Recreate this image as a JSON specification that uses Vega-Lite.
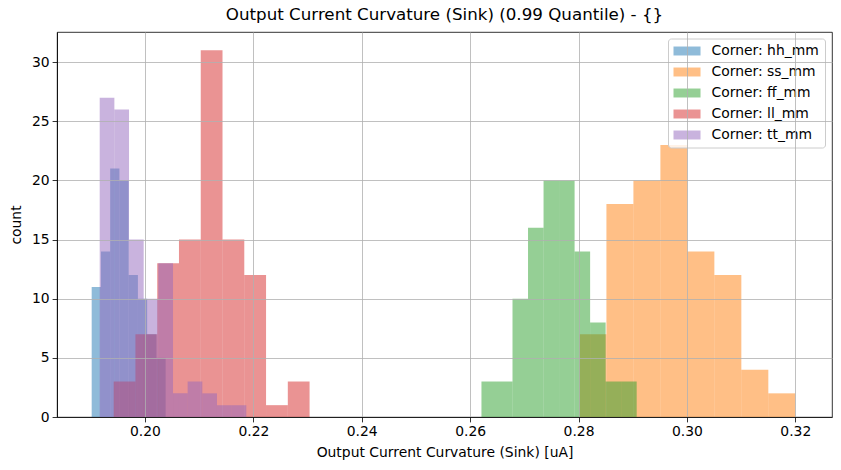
{
  "$schema": "https://vega.github.io/schema/vega-lite/v6.json",
  "autosize": "none",
  "width": 775,
  "height": 385,
  "padding": {"left": 57, "top": 32, "right": 9, "bottom": 53},
  "background": "white",
  "title": {"text": "Output Current Curvature (Sink) (0.99 Quantile) - {}", "font": "DejaVu Sans", "fontSize": 16.7, "fontWeight": "normal", "color": "black", "offset": 8},
  "config": {
    "view": {"stroke": "black", "strokeWidth": 0.8},
    "axis": {
      "labelFont": "DejaVu Sans", "labelFontSize": 13.9, "labelColor": "black",
      "titleFont": "DejaVu Sans", "titleFontSize": 13.9, "titleFontWeight": "normal", "titleColor": "black",
      "tickColor": "black", "tickSize": 4.9, "tickWidth": 0.8, "labelPadding": 3,
      "domainColor": "black", "domainWidth": 0.8,
      "gridColor": "#b0b0b0", "gridWidth": 0.8, "gridOpacity": 1
    }
  },
  "data": {"values": [
    {"corner": "Corner: hh_mm", "start": 0.19017, "end": 0.191876, "count": 11},
    {"corner": "Corner: hh_mm", "start": 0.191876, "end": 0.193582, "count": 14},
    {"corner": "Corner: hh_mm", "start": 0.193582, "end": 0.195288, "count": 21},
    {"corner": "Corner: hh_mm", "start": 0.195288, "end": 0.196994, "count": 20},
    {"corner": "Corner: hh_mm", "start": 0.196994, "end": 0.1987, "count": 12},
    {"corner": "Corner: hh_mm", "start": 0.1987, "end": 0.200406, "count": 10},
    {"corner": "Corner: hh_mm", "start": 0.200406, "end": 0.202112, "count": 7},
    {"corner": "Corner: hh_mm", "start": 0.202112, "end": 0.203818, "count": 5},
    {"corner": "Corner: ss_mm", "start": 0.28017, "end": 0.285149, "count": 7},
    {"corner": "Corner: ss_mm", "start": 0.285149, "end": 0.290127, "count": 18},
    {"corner": "Corner: ss_mm", "start": 0.290127, "end": 0.295106, "count": 20},
    {"corner": "Corner: ss_mm", "start": 0.295106, "end": 0.300084, "count": 23},
    {"corner": "Corner: ss_mm", "start": 0.300084, "end": 0.305063, "count": 14},
    {"corner": "Corner: ss_mm", "start": 0.305063, "end": 0.310041, "count": 12},
    {"corner": "Corner: ss_mm", "start": 0.310041, "end": 0.31502, "count": 4},
    {"corner": "Corner: ss_mm", "start": 0.31502, "end": 0.31999, "count": 2},
    {"corner": "Corner: ff_mm", "start": 0.26209, "end": 0.264954, "count": 3},
    {"corner": "Corner: ff_mm", "start": 0.264954, "end": 0.267818, "count": 3},
    {"corner": "Corner: ff_mm", "start": 0.267818, "end": 0.270682, "count": 10},
    {"corner": "Corner: ff_mm", "start": 0.270682, "end": 0.273546, "count": 16},
    {"corner": "Corner: ff_mm", "start": 0.273546, "end": 0.27641, "count": 20},
    {"corner": "Corner: ff_mm", "start": 0.27641, "end": 0.279274, "count": 20},
    {"corner": "Corner: ff_mm", "start": 0.279274, "end": 0.282138, "count": 14},
    {"corner": "Corner: ff_mm", "start": 0.282138, "end": 0.285002, "count": 8},
    {"corner": "Corner: ff_mm", "start": 0.285002, "end": 0.287866, "count": 3},
    {"corner": "Corner: ff_mm", "start": 0.287866, "end": 0.29073, "count": 3},
    {"corner": "Corner: ll_mm", "start": 0.19423, "end": 0.198246, "count": 3},
    {"corner": "Corner: ll_mm", "start": 0.198246, "end": 0.202262, "count": 7},
    {"corner": "Corner: ll_mm", "start": 0.202262, "end": 0.206278, "count": 13},
    {"corner": "Corner: ll_mm", "start": 0.206278, "end": 0.210294, "count": 15},
    {"corner": "Corner: ll_mm", "start": 0.210294, "end": 0.21431, "count": 31},
    {"corner": "Corner: ll_mm", "start": 0.21431, "end": 0.218326, "count": 15},
    {"corner": "Corner: ll_mm", "start": 0.218326, "end": 0.222342, "count": 12},
    {"corner": "Corner: ll_mm", "start": 0.222342, "end": 0.226358, "count": 1},
    {"corner": "Corner: ll_mm", "start": 0.226358, "end": 0.230374, "count": 3},
    {"corner": "Corner: tt_mm", "start": 0.19165, "end": 0.194355, "count": 27},
    {"corner": "Corner: tt_mm", "start": 0.194355, "end": 0.19706, "count": 26},
    {"corner": "Corner: tt_mm", "start": 0.19706, "end": 0.199765, "count": 15},
    {"corner": "Corner: tt_mm", "start": 0.199765, "end": 0.20247, "count": 10},
    {"corner": "Corner: tt_mm", "start": 0.20247, "end": 0.205175, "count": 13},
    {"corner": "Corner: tt_mm", "start": 0.205175, "end": 0.20788, "count": 2},
    {"corner": "Corner: tt_mm", "start": 0.20788, "end": 0.210585, "count": 3},
    {"corner": "Corner: tt_mm", "start": 0.210585, "end": 0.21329, "count": 2},
    {"corner": "Corner: tt_mm", "start": 0.21329, "end": 0.215995, "count": 1},
    {"corner": "Corner: tt_mm", "start": 0.215995, "end": 0.2187, "count": 1}
  ]},
  "mark": {"type": "bar", "opacity": 0.5, "strokeWidth": 0},
  "encoding": {
    "x": {"field": "start", "type": "quantitative", "title": "Output Current Curvature (Sink) [uA]",
      "scale": {"domain": [0.18377, 0.32677], "nice": false, "zero": false},
      "axis": {"values": [0.20, 0.22, 0.24, 0.26, 0.28, 0.30, 0.32], "format": ".2f", "zindex": 1, "titlePadding": 7}},
    "x2": {"field": "end"},
    "y": {"field": "count", "type": "quantitative", "title": "count", "stack": null,
      "scale": {"domain": [0, 32.55], "nice": false},
      "axis": {"values": [0, 5, 10, 15, 20, 25, 30], "zindex": 1, "titlePadding": 8}},
    "y2": {"datum": 0},
    "color": {"field": "corner", "type": "nominal",
      "scale": {"domain": ["Corner: hh_mm", "Corner: ss_mm", "Corner: ff_mm", "Corner: ll_mm", "Corner: tt_mm"],
        "range": ["#1f77b4", "#ff7f0e", "#2ca02c", "#d62728", "#9467bd"]},
      "legend": {"title": null, "orient": "none", "legendX": 611, "legendY": 6.5,
        "labelFont": "DejaVu Sans", "labelFontSize": 13.9, "labelColor": "black",
        "symbolType": "M-1,-0.64L2.86,-0.64L2.86,0.64L-1,0.64Z", "symbolSize": 196, "symbolOpacity": 0.5, "symbolStrokeWidth": 0,
        "labelOffset": 24, "rowPadding": 7, "padding": 5.5,
        "fillColor": "rgba(255,255,255,0.8)", "strokeColor": "#cccccc", "cornerRadius": 3}}
  }
}
